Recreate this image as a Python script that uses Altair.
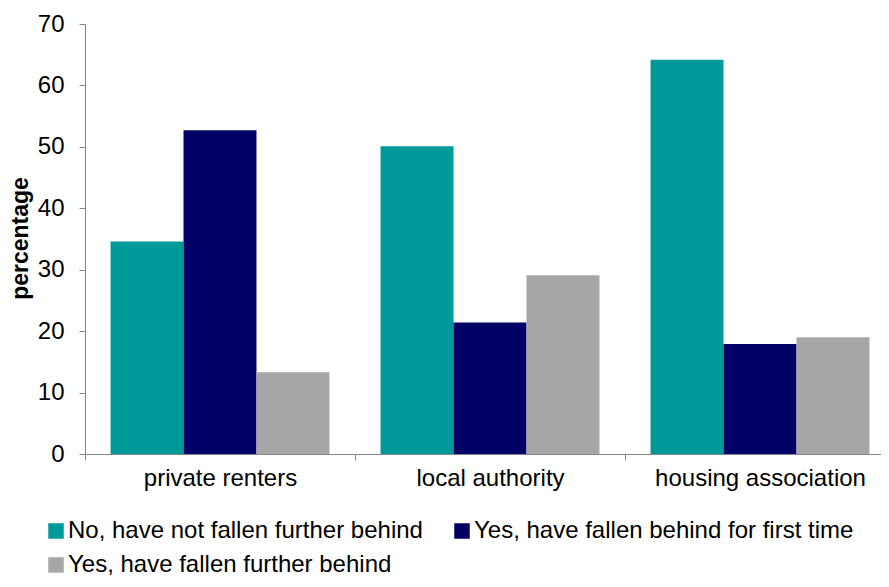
import altair as alt
import pandas as pd

categories = ["private renters", "local authority", "housing association"]
series = [
    "No, have not fallen further behind",
    "Yes, have fallen behind for first time",
    "Yes, have fallen further behind",
]
not_fallen = [34.6, 50.1, 64.2]
first_time = [52.7, 21.4, 17.9]
further = [13.3, 29.1, 19.0]
colors = ["#009999", "#000066", "#A6A6A6"]
y_ticks = [0, 10, 20, 30, 40, 50, 60, 70]

rows = []
for i, c in enumerate(categories):
    for s, vals in zip(series, [not_fallen, first_time, further]):
        rows.append({"category": c, "series": s, "value": vals[i]})
df = pd.DataFrame(rows)

FONT = "Liberation Sans"

chart = (
    alt.Chart(df)
    .mark_bar()
    .encode(
        x=alt.X(
            "category:N",
            sort=categories,
            scale=alt.Scale(range=[0, 810], paddingInner=0, paddingOuter=0),
            axis=alt.Axis(
                title=None,
                labelAngle=0,
                labelFontSize=24,
                labelFont=FONT,
                labelColor="black",
                labelPadding=6,
                labelLimit=400,
                tickSize=6,
                tickBand="extent",
                tickColor="#868686",
                domainColor="#868686",
            ),
        ),
        xOffset=alt.XOffset(
            "series:N",
            sort=series,
            scale=alt.Scale(paddingOuter=0.35, paddingInner=0),
        ),
        y=alt.Y(
            "value:Q",
            scale=alt.Scale(domain=[0, 70], nice=False),
            axis=alt.Axis(
                title="percentage",
                values=y_ticks,
                grid=False,
                labelFontSize=24,
                labelFont=FONT,
                labelColor="black",
                labelPadding=15,
                tickSize=6,
                tickColor="#868686",
                domainColor="#868686",
                titleFont=FONT,
                titleFontSize=23,
                titleFontWeight="bold",
                titleColor="black",
                titleX=-58,
                titleY=214,
                titleBaseline="alphabetic",
            ),
        ),
        color=alt.Color(
            "series:N",
            sort=series,
            scale=alt.Scale(domain=series, range=colors),
            legend=alt.Legend(
                title=None,
                orient="none",
                legendX=-41,
                legendY=495,
                direction="horizontal",
                columns=2,
                symbolType="square",
                symbolSize=240,
                symbolStrokeWidth=0,
                labelFontSize=24,
                labelFont=FONT,
                labelColor="black",
                labelOffset=0,
                labelLimit=600,
                columnPadding=27,
                rowPadding=10,
            ),
        ),
    )
    .properties(
        width=796,
        height=430,
        autosize=alt.AutoSizeParams(type="none"),
        padding={"left": 77, "top": 16, "right": 0, "bottom": 125},
    )
    .configure_view(stroke=None)
)

chart.save("out.html", embed_options={"renderer": "svg", "actions": False})
